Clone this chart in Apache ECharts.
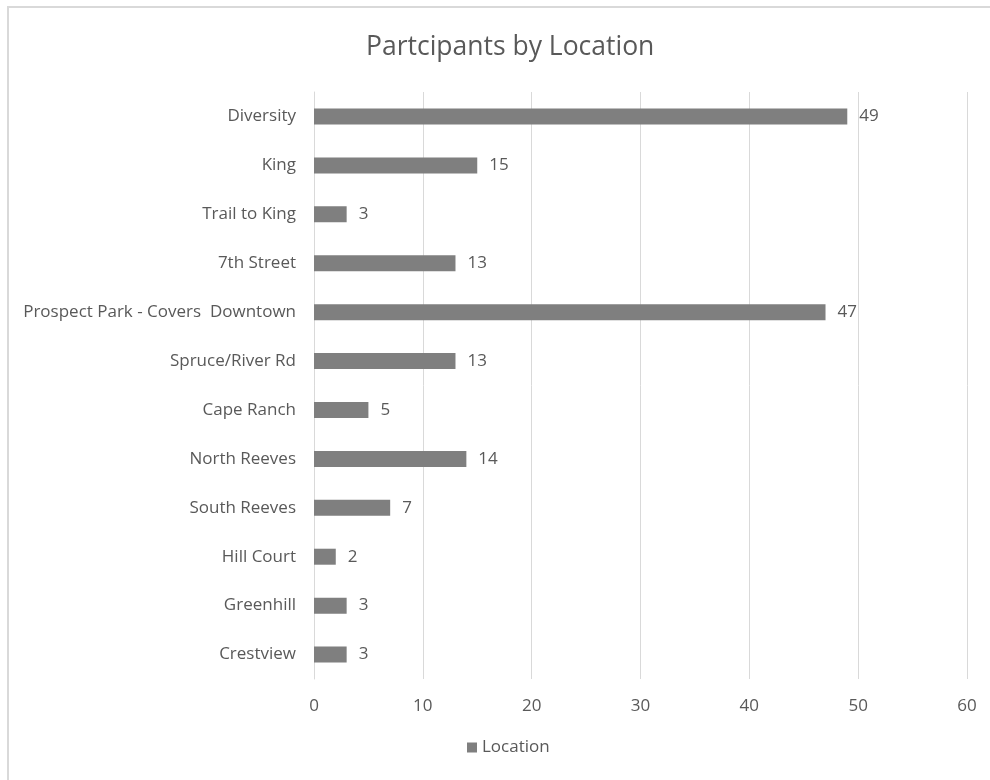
<!DOCTYPE html>
<html>
<head>
<meta charset="utf-8">
<script src="https://cdn.jsdelivr.net/npm/echarts@6/dist/echarts.min.js"></script>
<style>
  html, body { margin: 0; padding: 0; background: #fff; }
  #chart { width: 990px; height: 780px; }
</style>
</head>
<body>
<div id="chart"></div>
<script>
// Participant counts per location, listed top to bottom
const locations = [
  'Diversity', 'King', 'Trail to King', '7th Street',
  'Prospect Park - Covers  Downtown', 'Spruce/River Rd', 'Cape Ranch',
  'North Reeves', 'South Reeves', 'Hill Court', 'Greenhill', 'Crestview'
];
const participants = [49, 15, 3, 13, 47, 13, 5, 14, 7, 2, 3, 3];
const seriesName = 'Location';
const chartTitle = 'Partcipants by Location';

const textColor = '#595959';
const fontFamily = '"Open Sans", "Liberation Sans", sans-serif';

const chart = echarts.init(document.getElementById('chart'), null, { renderer: 'canvas' });

chart.setOption({
  backgroundColor: '#fff',
  animation: false,
  // chart frame: only the top and left edges fall inside the page
  graphic: [{
    type: 'polyline',
    shape: { points: [[8, 800], [8, 7], [1000, 7]] },
    style: { fill: null, stroke: '#d9d9d9', lineWidth: 2 },
    silent: true,
    z: -10
  }],
  title: {
    text: chartTitle,
    left: 361,
    top: 29,
    textStyle: { color: textColor, fontFamily: fontFamily, fontSize: 26.5, fontWeight: 'normal' }
  },
  legend: {
    data: [seriesName],
    bottom: 19,
    left: 462,
    itemWidth: 10,
    itemHeight: 10,
    itemGap: 6,
    icon: 'rect',
    textStyle: { color: textColor, fontFamily: fontFamily, fontSize: 17 }
  },
  grid: { left: 314, right: 23, top: 92, bottom: 101, containLabel: false },
  xAxis: {
    type: 'value',
    min: 0,
    max: 60,
    interval: 10,
    axisLine: { show: false },
    axisTick: { show: false },
    axisLabel: { color: textColor, fontFamily: fontFamily, fontSize: 17, margin: 19 },
    splitLine: { lineStyle: { color: '#d9d9d9', width: 1 } }
  },
  yAxis: {
    type: 'category',
    data: locations,
    inverse: true,
    axisLine: { show: true, lineStyle: { color: '#d9d9d9' } },
    axisTick: { show: false },
    axisLabel: { color: textColor, fontFamily: fontFamily, fontSize: 17, margin: 18 }
  },
  series: [{
    name: seriesName,
    type: 'bar',
    data: participants,
    barWidth: 16,
    itemStyle: { color: '#7f7f7f' },
    label: {
      show: true,
      position: 'right',
      distance: 12,
      color: textColor,
      fontFamily: fontFamily,
      fontSize: 17
    }
  }]
});
</script>
</body>
</html>
